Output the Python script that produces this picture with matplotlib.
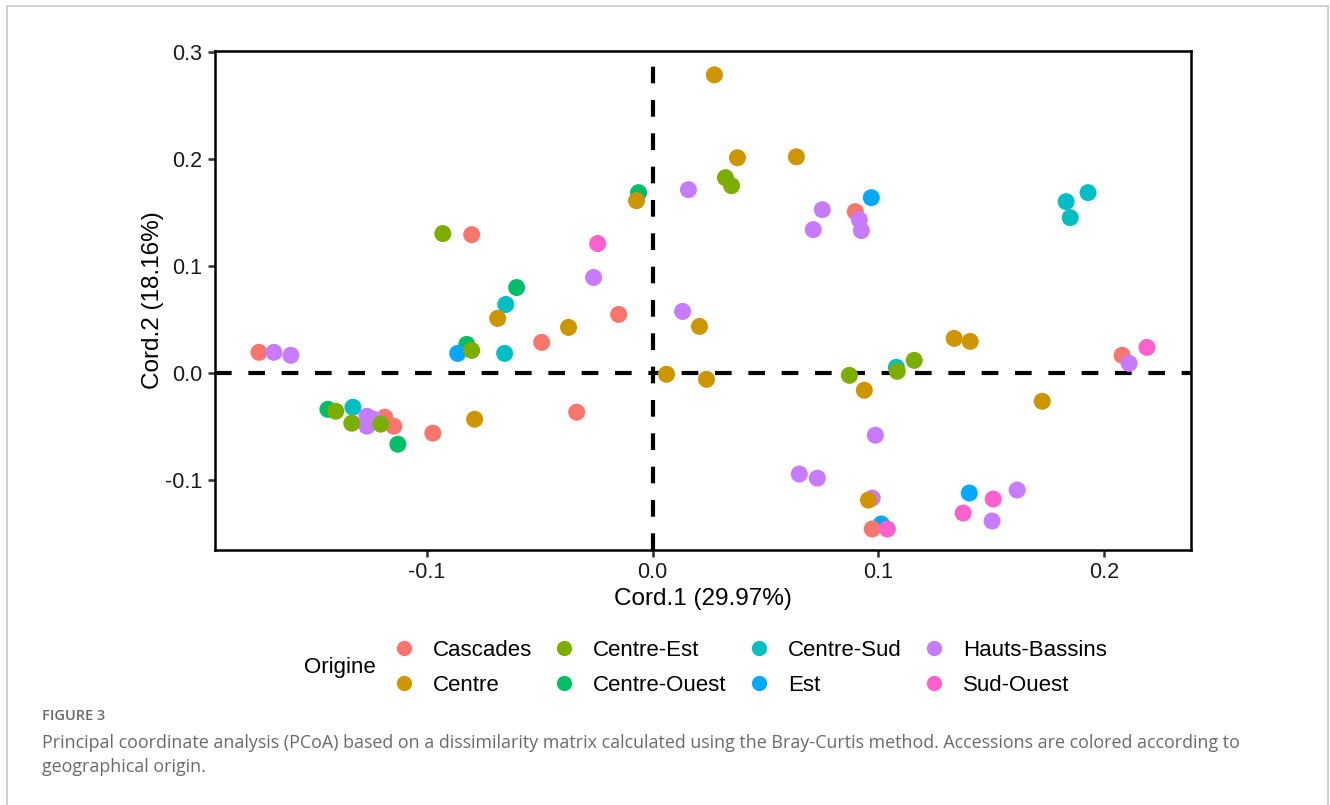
import matplotlib
matplotlib.use('Agg')
import matplotlib.pyplot as plt
from matplotlib.lines import Line2D
from matplotlib.patches import Rectangle

plt.rcParams['font.family'] = ['Liberation Sans', 'DejaVu Sans']
plt.rcParams['axes.unicode_minus'] = False

# Group names and ggplot default hue colours
ORIGINS = ["Cascades", "Centre", "Centre-Est", "Centre-Ouest",
           "Centre-Sud", "Est", "Hauts-Bassins", "Sud-Ouest"]
COLORS = ["#F8766D", "#CD9600", "#7CAE00", "#00BE67",
          "#00BFC4", "#00A9FF", "#C77CFF", "#FF61CC"]

# PCoA coordinates (Cord.1, Cord.2)
cascades_x = [-0.1743, -0.1186, -0.1146, -0.0973, -0.0801, -0.0491, -0.0150, -0.0336, 0.0898, 0.0973, 0.2080]
cascades_y = [0.0196, -0.0410, -0.0494, -0.0559, 0.1295, 0.0289, 0.0550, -0.0363, 0.1510, -0.1454, 0.0168]

centre_x = [-0.0686, -0.0788, -0.0372, -0.0071, 0.0062, 0.0208, 0.0239, 0.0274, 0.0376, 0.0637, 0.0938, 0.1336, 0.1407, 0.1726, 0.0956]
centre_y = [0.0513, -0.0429, 0.0429, 0.1612, -0.0009, 0.0438, -0.0056, 0.2787, 0.2013, 0.2022, -0.0158, 0.0326, 0.0298, -0.0261, -0.1184]

centre_est_x = [-0.1403, -0.1332, -0.1204, -0.0929, -0.0801, 0.0323, 0.0350, 0.0872, 0.1084, 0.1159]
centre_est_y = [-0.0354, -0.0466, -0.0475, 0.1305, 0.0214, 0.1827, 0.1752, -0.0019, 0.0019, 0.0121]

centre_ouest_x = [-0.1438, -0.1128, -0.0823, -0.0602, -0.0062]
centre_ouest_y = [-0.0336, -0.0662, 0.0270, 0.0801, 0.1687]

centre_sud_x = [-0.1327, -0.0650, -0.0655, 0.1080, 0.1929, 0.1832, 0.1850]
centre_sud_y = [-0.0317, 0.0643, 0.0186, 0.0056, 0.1687, 0.1603, 0.1454]

est_x = [-0.0863, 0.0969, 0.1013, 0.1403]
est_y = [0.0186, 0.1640, -0.1407, -0.1118]

hauts_bassins_x = [-0.1677, -0.1602, -0.1265, -0.1265, -0.1235, -0.0261, 0.0159, 0.0133, 0.0752, 0.0712,
                   0.0916, 0.0925, 0.0987, 0.0650, 0.0730, 0.0973, 0.1615, 0.1504, 0.2111]
hauts_bassins_y = [0.0196, 0.0168, -0.0401, -0.0494, -0.0429, 0.0895, 0.1715, 0.0578, 0.1528, 0.1342,
                   0.1435, 0.1333, -0.0578, -0.0941, -0.0979, -0.1165, -0.1090, -0.1379, 0.0093]

sud_ouest_x = [-0.0243, 0.1040, 0.1509, 0.1376, 0.2190]
sud_ouest_y = [0.1212, -0.1454, -0.1174, -0.1305, 0.0242]

GROUPS = {
    "Cascades": (cascades_x, cascades_y),
    "Centre": (centre_x, centre_y),
    "Centre-Est": (centre_est_x, centre_est_y),
    "Centre-Ouest": (centre_ouest_x, centre_ouest_y),
    "Centre-Sud": (centre_sud_x, centre_sud_y),
    "Est": (est_x, est_y),
    "Hauts-Bassins": (hauts_bassins_x, hauts_bassins_y),
    "Sud-Ouest": (sud_ouest_x, sud_ouest_y),
}
# drawing order so overlaps look like the original
DRAW_ORDER = ["Centre-Ouest", "Centre-Sud", "Est", "Cascades",
              "Hauts-Bassins", "Centre", "Centre-Est", "Sud-Ouest"]

XTICKS = [-0.1, 0.0, 0.1, 0.2]
YTICKS = [-0.1, 0.0, 0.1, 0.2, 0.3]

W, H = 1330, 805
fig = plt.figure(figsize=(W / 100, H / 100), dpi=100, facecolor='white')

# light frame around the figure panel
fig.patches.append(Rectangle((7 / W, -0.05), (1328 - 7) / W, 1.05 - 6 / H,
                             transform=fig.transFigure, fill=False,
                             edgecolor='#c8c8c8', linewidth=1.2))

ax = fig.add_axes([215 / W, 1 - 550 / H, (1191 - 215) / W, (550 - 51) / H])
color_of = dict(zip(ORIGINS, COLORS))
for name in DRAW_ORDER:
    xs, ys = GROUPS[name]
    ax.scatter(xs, ys, s=150, color=color_of[name], edgecolors='none', zorder=3)

ax.axhline(0, color='black', linewidth=3, linestyle=(0, (4, 4)), zorder=2)
ax.axvline(0, color='black', linewidth=3, linestyle=(0, (4, 4)), zorder=2)

ax.set_xlim(-0.1938, 0.2385)
ax.set_ylim(-0.165, 0.301)
ax.set_xticks(XTICKS)
ax.set_xticklabels([f"{v:.1f}" for v in XTICKS])
ax.set_yticks(YTICKS)
ax.set_yticklabels([f"{v:.1f}" for v in YTICKS])
for sp in ax.spines.values():
    sp.set_linewidth(1.8)
    sp.set_color('black')
ax.tick_params(length=5, width=1.8, color='#333333', labelsize=15.5,
               labelcolor='#1a1a1a', pad=4)
ax.set_xlabel("Cord.1 (29.97%)", fontsize=17.5, labelpad=3)
ax.set_ylabel("Cord.2 (18.16%)", fontsize=17.5, labelpad=1)

# legend, title placed on the left like ggplot's bottom legend
handles = [Line2D([], [], marker='o', linestyle='none', markersize=11,
                  markerfacecolor=c, markeredgecolor='none') for c in COLORS]
fig.legend(handles, ORIGINS, ncol=4, loc='center left',
           bbox_to_anchor=(393 / W, 1 - 668 / H), frameon=False,
           fontsize=16, handlelength=1.0, handletextpad=0.8,
           columnspacing=0.95, labelspacing=0.62, borderpad=0,
           borderaxespad=0)
fig.text(304 / W, 1 - 667 / H, "Origine", fontsize=16, va='center', ha='left')

# caption
fig.text(42 / W, 1 - 716 / H, "FIGURE 3", fontsize=10.5, color='#6a6a6a',
         family=['Open Sans', 'DejaVu Sans'], weight='semibold', va='center')
fig.text(42 / W, 1 - 743 / H,
         "Principal coordinate analysis (PCoA) based on a dissimilarity matrix calculated "
         "using the Bray-Curtis method. Accessions are colored according to",
         fontsize=12.9, color='#6a6a6a', family=['Open Sans', 'DejaVu Sans'], va='center')
fig.text(42 / W, 1 - 767 / H, "geographical origin.",
         fontsize=12.9, color='#6a6a6a', family=['Open Sans', 'DejaVu Sans'], va='center')

fig.savefig("out.png", dpi=100, facecolor='white')
